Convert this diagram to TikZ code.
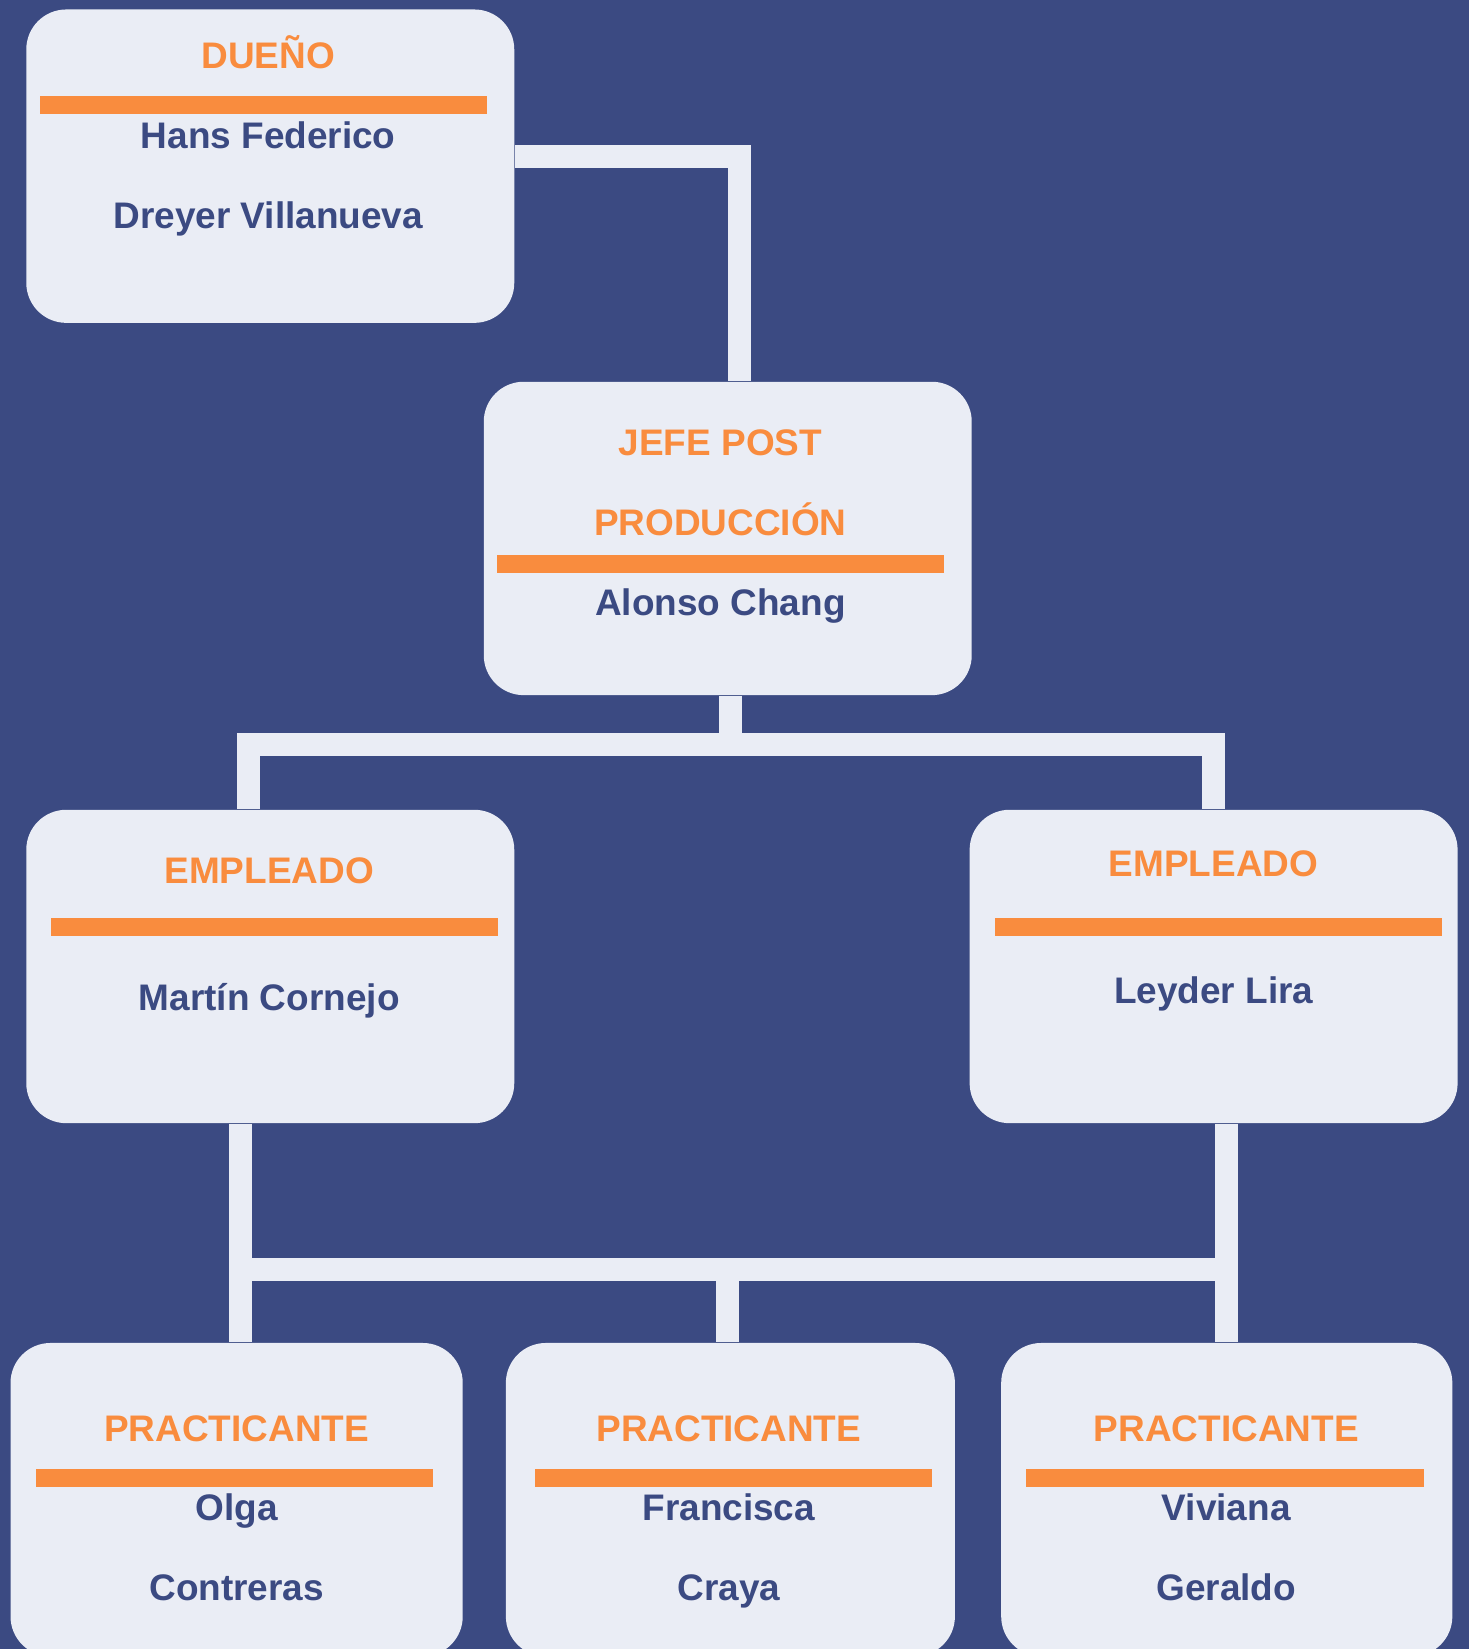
\documentclass[tikz,border=0pt]{standalone}
\usepackage{fontspec}
\setmainfont{Liberation Sans}
\usepackage{xcolor}
\usepackage{tikz}
\usetikzlibrary{positioning}
\definecolor{navy}{RGB}{59,74,130}
\definecolor{pale}{RGB}{234,237,245}
\definecolor{naranja}{RGB}{249,140,62}
\tikzset{link/.style = {draw=pale, line width=0.22cm}}

\begin{document}
\begin{tikzpicture}[box/.style={rectangle,rounded corners=0.38cm,fill=pale,minimum width=4.64cm,minimum height=2.98cm,inner sep=0pt},
        cargo/.style={anchor=base,text=naranja,font=\fontsize{10}{12}\selectfont\bfseries},
        persona/.style={anchor=base,text=navy,font=\fontsize{10}{12}\selectfont\bfseries},
        bar/.style={rectangle,fill=naranja,minimum width=4.25cm,minimum height=0.17cm,inner sep=0pt}]
            \fill[navy] (0,0) rectangle (13.97,-15.68);
            \useasboundingbox (0,0) rectangle (13.97,-15.68);
            \clip (0,0) rectangle (13.97,-15.68);

            \node[box] (dueno) at (2.57,-1.58) {};
            \node[box] (jefe) at (6.92,-5.12) {};
            \node[box] (emp1) at (2.57,-9.19) {};
            \node[box] (emp2) at (11.54,-9.19) {};
            \node[box, minimum width=4.30cm] (prac1) at (2.25,-14.26) {};
            \node[box, minimum width=4.27cm] (prac2) at (6.945,-14.26) {};
            \node[box, minimum width=4.29cm] (prac3) at (11.665,-14.26) {};

            \node[cargo] (dueno-t) at (2.55,-0.65) {DUEÑO};
            \node[bar] (dueno-bar) at (2.505,-1.00) {};
            \node[persona] (dueno-n1) at (2.55,-1.41) {Hans Federico};
            \node[persona] (dueno-n2) at (2.55,-2.17) {Dreyer Villanueva};

            \node[cargo] (jefe-t1) at (6.85,-4.33) {JEFE POST};
            \node[cargo] (jefe-t2) at (6.85,-5.09) {PRODUCCIÓN};
            \node[bar] (jefe-bar) at (6.855,-5.365) {};
            \node[persona] (jefe-n) at (6.85,-5.85) {Alonso Chang};

            \node[cargo] (emp1-t) at (2.56,-8.40) {EMPLEADO};
            \node[bar] (emp1-bar) at (2.61,-8.815) {};
            \node[persona] (emp1-n) at (2.56,-9.61) {Martín Cornejo};

            \node[cargo] (emp2-t) at (11.54,-8.33) {EMPLEADO};
            \node[bar] (emp2-bar) at (11.59,-8.815) {};
            \node[persona] (emp2-n) at (11.54,-9.54) {Leyder Lira};

            \node[cargo] (prac1-t) at (2.25,-13.71) {PRACTICANTE};
            \node[bar, minimum width=3.78cm] (prac1-bar) at (2.23,-14.055) {};
            \node[persona] (prac1-n1) at (2.25,-14.46) {Olga};
            \node[persona] (prac1-n2) at (2.25,-15.22) {Contreras};

            \node[cargo] (prac2-t) at (6.93,-13.71) {PRACTICANTE};
            \node[bar, minimum width=3.77cm] (prac2-bar) at (6.975,-14.055) {};
            \node[persona] (prac2-n1) at (6.93,-14.46) {Francisca};
            \node[persona] (prac2-n2) at (6.93,-15.22) {Craya};

            \node[cargo] (prac3-t) at (11.66,-13.71) {PRACTICANTE};
            \node[bar, minimum width=3.78cm] (prac3-bar) at (11.65,-14.055) {};
            \node[persona] (prac3-n1) at (11.66,-14.46) {Viviana};
            \node[persona] (prac3-n2) at (11.66,-15.22) {Geraldo};

            \coordinate (bus1) at (6.95,-7.08);
            \coordinate (bus2) at (6.92,-12.07);

            \draw[link] ([yshift=0.09cm]dueno.east) -| ([xshift=0.11cm]jefe.north);
            \draw[link] ([xshift=0.03cm]jefe.south) -- (bus1);
            \draw[link] (bus1) -| ([xshift=-0.21cm]emp1.north);
            \draw[link] (bus1) -| (emp2.north);

            \draw[link] ([xshift=-0.28cm]emp1.south) -- ([xshift=-0.28cm]emp1.south |- prac1.north);
            \draw[link] ([xshift=0.12cm]emp2.south) -- ([xshift=0.12cm]emp2.south |- prac3.north);
            \draw[link] ([xshift=-0.28cm]emp1.south |- bus2) -- ([xshift=0.12cm]emp2.south |- bus2);
            \draw[link] (bus2) -- (bus2 |- prac2.north);

        \end{tikzpicture}
\end{document}
